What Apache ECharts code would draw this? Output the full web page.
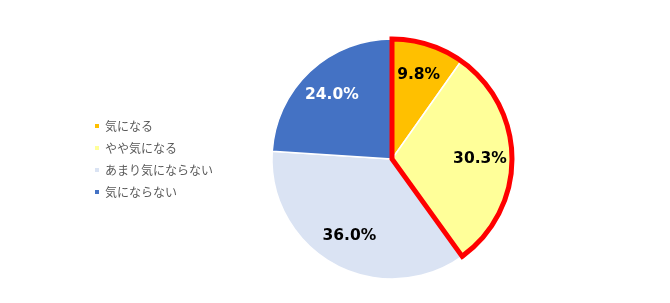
<!DOCTYPE html>
<html><head><meta charset="utf-8">
<script src="https://cdn.jsdelivr.net/npm/echarts@6/dist/echarts.min.js"></script>
<style>html,body{margin:0;padding:0;background:#fff}#c{width:670px;height:303px}</style>
</head><body><div id="c"></div>
<script>
const categories = ['気になる', 'やや気になる', 'あまり気にならない', '気にならない'];
const values = [9.8, 30.3, 36.0, 24.0];
const colors = ['#FFC000', '#FFFF99', '#DAE3F3', '#4472C4'];
const labelColors = ['#000', '#000', '#000', '#fff'];
const highlightCount = 2; // first two slices outlined in red

const chart = echarts.init(document.getElementById('c'));
const center = [392, 159];
const R = 120;
const hi = values.slice(0, highlightCount).reduce((a, b) => a + b, 0);
const rest = values.slice(highlightCount).reduce((a, b) => a + b, 0);

chart.setOption({
  animation: false,
  legend: {
    orient: 'vertical',
    left: 88,
    top: 114,
    itemWidth: 6,
    itemHeight: 6,
    itemGap: 8,
    icon: 'rect',
    data: categories,
    textStyle: { fontFamily: 'Noto Sans CJK JP', fontSize: 12, color: '#595959', lineHeight: 14 }
  },
  series: [
    {
      type: 'pie', center: center, radius: [0, R], startAngle: 90, clockwise: true,
      label: { show: false }, labelLine: { show: false },
      itemStyle: { borderColor: '#fff', borderWidth: 1.5 },
      data: categories.map((n, i) => ({ name: n, value: values[i], itemStyle: { color: colors[i] } }))
    },
    {
      type: 'pie', center: center, radius: [0, R], startAngle: 90, clockwise: true, silent: true, z: 3,
      label: { show: false }, labelLine: { show: false }, legendHoverLink: false,
      data: [
        { name: '_hi', value: hi, itemStyle: { color: 'rgba(0,0,0,0)', borderColor: '#FF0000', borderWidth: 5, borderJoin: 'miter' } },
        { name: '_rest', value: rest, itemStyle: { color: 'rgba(0,0,0,0)', borderWidth: 0 } }
      ]
    },
    {
      type: 'pie', center: center, radius: [50, R], startAngle: 90, clockwise: true, silent: true, z: 4,
      labelLine: { show: false }, legendHoverLink: false,
      label: {
        show: true, position: 'inside',
        fontFamily: 'DejaVu Sans', fontWeight: 'bold', fontSize: 15.5,
        formatter: p => p.value.toFixed(1) + '%'
      },
      data: categories.map((n, i) => ({ name: 'l' + i, value: values[i], itemStyle: { color: 'rgba(0,0,0,0)', borderWidth: 0 }, label: { color: labelColors[i] } }))
    }
  ]
});
</script>
</body></html>
